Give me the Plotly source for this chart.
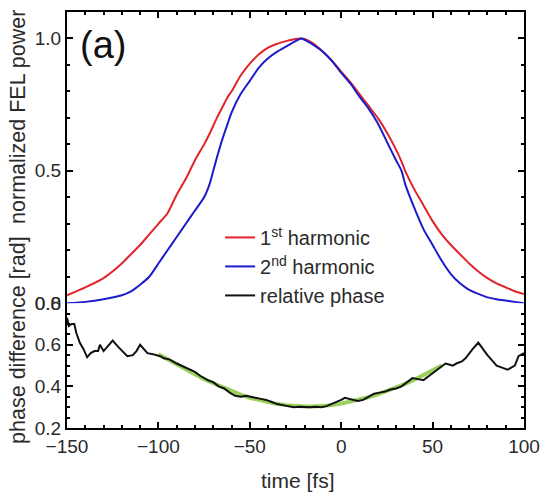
import plotly.graph_objects as go

# ---- data ----
t_power = [-150, -140, -130, -120, -115, -110, -105, -100, -95, -90, -85, -80, -75, -72, -70, -68, -65,
           -62, -60, -55, -50, -45, -40, -35, -30, -25, -22, -20, -15, -10, -5, 0, 5, 10, 15, 20,
           25, 30, 33, 35, 40, 45, 50, 55, 60, 65, 70, 75, 80, 85, 90, 95, 100]
p_first = [0.03, 0.06, 0.095, 0.15, 0.185, 0.22, 0.26, 0.30, 0.34, 0.41, 0.47, 0.54, 0.60, 0.64, 0.67,
           0.70, 0.74, 0.78, 0.80, 0.86, 0.905, 0.94, 0.965, 0.98, 0.99, 0.998, 1.0, 0.998, 0.98,
           0.95, 0.915, 0.875, 0.835, 0.79, 0.745, 0.70, 0.645, 0.58, 0.535, 0.50, 0.43, 0.37,
           0.31, 0.26, 0.22, 0.185, 0.15, 0.12, 0.095, 0.075, 0.06, 0.045, 0.035]
p_second = [0.0, 0.005, 0.015, 0.03, 0.045, 0.07, 0.10, 0.15, 0.20, 0.25, 0.30, 0.35, 0.40, 0.45, 0.50,
            0.55, 0.62, 0.68, 0.72, 0.79, 0.84, 0.89, 0.925, 0.95, 0.97, 0.99, 1.0, 0.995, 0.975,
            0.95, 0.915, 0.87, 0.83, 0.78, 0.735, 0.68, 0.61, 0.54, 0.50, 0.45, 0.36, 0.28, 0.22,
            0.16, 0.11, 0.075, 0.05, 0.035, 0.022, 0.015, 0.01, 0.005, 0.0]

t_phase = [-150, -149, -147.5, -146, -145, -143, -141, -139, -137, -135, -133, -132, -130, -128, -125,
           -122, -119, -117, -114, -112, -110, -108, -106, -103, -101, -99, -97, -94, -90, -86, -83,
           -80, -77, -73, -70, -67, -64, -61, -58, -55, -52, -50, -47, -44, -41, -38, -35, -32, -29,
           -26, -23, -20, -17, -14, -11, -8, -5, -2, 0, 2, 4, 6, 9, 12, 15, 18, 21, 24, 27, 30, 33,
           36, 39, 42, 45, 48, 51, 54, 57, 59, 61, 63, 66, 68, 70, 72, 75, 77, 80, 83, 85, 88, 91,
           93, 95, 97, 100]
phase = [0.73, 0.69, 0.70, 0.70, 0.66, 0.61, 0.58, 0.54, 0.56, 0.57, 0.57, 0.60, 0.57, 0.59, 0.62,
         0.59, 0.56, 0.545, 0.55, 0.57, 0.60, 0.58, 0.56, 0.555, 0.55, 0.545, 0.535, 0.53, 0.51,
         0.495, 0.48, 0.47, 0.45, 0.43, 0.42, 0.40, 0.39, 0.37, 0.355, 0.35, 0.355, 0.35, 0.345,
         0.34, 0.335, 0.325, 0.315, 0.31, 0.305, 0.30, 0.302, 0.30, 0.30, 0.302, 0.30, 0.305, 0.315,
         0.325, 0.335, 0.345, 0.34, 0.335, 0.33, 0.335, 0.35, 0.365, 0.37, 0.375, 0.385, 0.39,
         0.40, 0.42, 0.44, 0.435, 0.43, 0.45, 0.47, 0.49, 0.51, 0.505, 0.50, 0.51, 0.52, 0.535,
         0.56, 0.58, 0.61, 0.585, 0.55, 0.52, 0.50, 0.49, 0.48, 0.49, 0.50, 0.545, 0.56]

t_fit = [-100, -95, -90, -85, -80, -75, -70, -65, -60, -55, -50, -45, -40, -35, -30, -25, -20, -15,
         -10, -5, 0, 5, 10, 15, 20, 25, 30, 35, 40, 45, 50, 55]
phase_fit = [0.555, 0.53, 0.505, 0.48, 0.46, 0.435, 0.415, 0.395, 0.375, 0.36, 0.345, 0.335, 0.325,
             0.315, 0.31, 0.305, 0.303, 0.303, 0.305, 0.31, 0.317, 0.326, 0.336, 0.348, 0.362,
             0.377, 0.394, 0.412, 0.432, 0.453, 0.475, 0.50]

names = ["1<sup>st</sup> harmonic", "2<sup>nd</sup> harmonic", "relative phase"]

FONT = "Liberation Sans, Arial, sans-serif"
TXT = "#2a2a2a"

fig = go.Figure()
fig.add_trace(go.Scatter(x=t_power, y=p_first, mode="lines", name=names[0],
                         line=dict(color="#e0242a", width=2, shape="spline", smoothing=0.6),
                         xaxis="x2", yaxis="y2"))
fig.add_trace(go.Scatter(x=t_power, y=p_second, mode="lines", name=names[1],
                         line=dict(color="#1c1ccc", width=2, shape="spline", smoothing=0.6),
                         xaxis="x2", yaxis="y2"))
fig.add_trace(go.Scatter(x=t_fit, y=phase_fit, mode="lines", showlegend=False,
                         line=dict(color="#9ad15a", width=4), xaxis="x", yaxis="y"))
fig.add_trace(go.Scatter(x=t_phase, y=phase, mode="lines", name=names[2],
                         line=dict(color="#111111", width=2), xaxis="x", yaxis="y"))

split = 0.30
axcommon = dict(showline=True, linecolor="black", linewidth=2, showgrid=False, zeroline=False,
                ticks="inside", tickcolor="black", tickwidth=2, ticklen=6, automargin=False,
                tickfont=dict(family=FONT, size=19, color=TXT))

fig.update_layout(
    width=545, height=495,
    margin=dict(l=67, r=21, t=12, b=67, autoexpand=False),
    paper_bgcolor="white", plot_bgcolor="white",
    showlegend=True,
    legend=dict(x=0.335, y=0.505, xanchor="left", yanchor="top",
                bgcolor="rgba(0,0,0,0)", font=dict(family=FONT, size=20, color=TXT),
                tracegroupgap=0),
    xaxis=dict(domain=[0, 1], range=[-150, 100], anchor="y", side="bottom",
               tickvals=[-150, -100, -50, 0, 50, 100],
               minor=dict(dtick=10, ticks="inside", ticklen=3, tickcolor="black", tickwidth=1.5),
               **axcommon),
    xaxis2=dict(domain=[0, 1], range=[-150, 100], anchor="y2", side="top", matches="x",
                showticklabels=False, tickvals=[-150, -100, -50, 0, 50, 100],
                minor=dict(dtick=10, ticks="inside", ticklen=3, tickcolor="black", tickwidth=1.5),
                **axcommon),
    yaxis=dict(domain=[0, split], range=[0.2, 0.8], anchor="x", mirror="ticks",
               tickvals=[0.2, 0.4, 0.6, 0.8], ticktext=["0.2", "0.4", "0.6", "0.8"],
               minor=dict(dtick=0.05, ticks="inside", ticklen=3, tickcolor="black", tickwidth=1.5),
               **axcommon),
    yaxis2=dict(domain=[split, 1], range=[0, 1.1], anchor="x2", mirror="ticks",
                tickvals=[0.0, 0.5, 1.0], ticktext=["0.0", "0.5", "1.0"],
                minor=dict(dtick=0.1, ticks="inside", ticklen=3, tickcolor="black", tickwidth=1.5),
                **axcommon),
    annotations=[
        dict(text="time [fs]", xref="paper", yref="paper", x=0.505, y=-0.125,
             xanchor="center", yanchor="middle", showarrow=False,
             font=dict(family=FONT, size=21, color=TXT)),
        dict(text="phase difference [rad]", xref="paper", yref="paper", x=-0.107, y=0.212,
             xanchor="center", yanchor="middle", textangle=-90, showarrow=False,
             font=dict(family=FONT, size=21.5, color=TXT)),
        dict(text="normalized FEL power", xref="paper", yref="paper", x=-0.107, y=0.748,
             xanchor="center", yanchor="middle", textangle=-90, showarrow=False,
             font=dict(family=FONT, size=21.5, color=TXT)),
        dict(text="(a)", xref="paper", yref="paper", x=0.025, y=0.975,
             xanchor="left", yanchor="top", showarrow=False,
             font=dict(family=FONT, size=38, color="#111111")),
    ],
)

fig.write_html("out.html")
